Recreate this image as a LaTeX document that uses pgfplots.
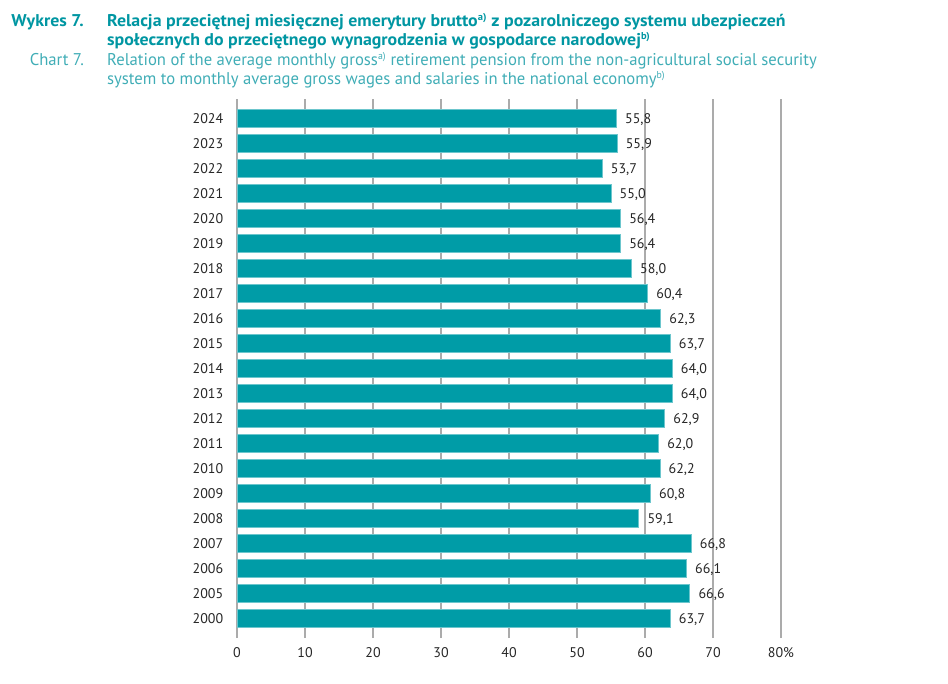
\documentclass[border=0pt]{standalone}
\usepackage{fontspec}
\setmainfont{PT Sans}
\newfontfamily\titlefontb[FakeStretch=1.05]{PT Sans}
\newfontfamily\titlefontr[FakeStretch=0.98]{PT Sans}
\usepackage{pgfplots}
\pgfplotsset{compat=1.18}
\definecolor{barteal}{HTML}{009CA7}
\definecolor{baredge}{HTML}{6CC6CD}
\definecolor{titleteal}{HTML}{0096A2}
\definecolor{subteal}{HTML}{40ADB6}
\definecolor{gridgray}{HTML}{ABABAB}
\pgfplotstableread{
idx year val
0 2000 63.7
1 2005 66.6
2 2006 66.1
3 2007 66.8
4 2008 59.1
5 2009 60.8
6 2010 62.2
7 2011 62.0
8 2012 62.9
9 2013 64.0
10 2014 64.0
11 2015 63.7
12 2016 62.3
13 2017 60.4
14 2018 58.0
15 2019 56.4
16 2020 56.4
17 2021 55.0
18 2022 53.7
19 2023 55.9
20 2024 55.8
}\datatable
\begin{document}
\begin{tikzpicture}
\useasboundingbox (0pt,0pt) rectangle (948pt,683pt);
\node[anchor=base east, inner sep=0pt, text=titleteal, font=\titlefontb\fontsize{17}{20}\selectfont\bfseries] at (84pt,656pt) {Wykres 7.};
\node[anchor=base west, inner sep=0pt, text=titleteal, font=\titlefontb\fontsize{17}{20}\selectfont\bfseries] at (107pt,656pt) {Relacja przeciętnej miesięcznej emerytury brutto\textsuperscript{\fontsize{10}{10}\selectfont a)} z pozarolniczego systemu ubezpieczeń};
\node[anchor=base west, inner sep=0pt, text=titleteal, font=\titlefontb\fontsize{17}{20}\selectfont\bfseries] at (107pt,637.5pt) {społecznych do przeciętnego wynagrodzenia w gospodarce narodowej\textsuperscript{\fontsize{10}{10}\selectfont b)}};
\node[anchor=base east, inner sep=0pt, text=subteal, font=\titlefontr\fontsize{17}{20}\selectfont] at (84pt,617pt) {Chart 7.};
\node[anchor=base west, inner sep=0pt, text=subteal, font=\titlefontr\fontsize{17}{20}\selectfont] at (107pt,617pt) {Relation of the average monthly gross\textsuperscript{\fontsize{10}{10}\selectfont a)} retirement pension from the non-agricultural social security};
\node[anchor=base west, inner sep=0pt, text=subteal, font=\titlefontr\fontsize{17}{20}\selectfont] at (107pt,598pt) {system to monthly average gross wages and salaries in the national economy\textsuperscript{\fontsize{10}{10}\selectfont b)}};
\begin{axis}[
  at={(237pt,45pt)}, anchor=south west,
  scale only axis, width=544pt, height=539pt,
  xbar, bar width=18pt,
  xmin=0, xmax=80, ymin=-0.79, ymax=20.79,
  axis line style={draw=none},
  major tick style={draw=none},
  xtick={0,10,...,80},
  xticklabels={0,10,20,30,40,50,60,70,80\%},
  ytick={0,...,20},
  yticklabels={2000,2005,2006,2007,2008,2009,2010,2011,2012,2013,2014,2015,2016,2017,2018,2019,2020,2021,2022,2023,2024},
  xmajorgrids, grid style={gridgray, line width=1.3pt},
  tick label style={font=\fontsize{14}{16}\selectfont, text=black!85},
  xticklabel style={yshift=-6pt},
  yticklabel style={xshift=-6pt},
  /pgf/number format/assume math mode=true,
  nodes near coords,
  point meta=x,
  nodes near coords style={font=\fontsize{14}{16}\selectfont, text=black!85, anchor=west, xshift=5pt, yshift=-1pt,
    /pgf/number format/.cd, fixed, fixed zerofill, precision=1, use comma},
]
\addplot[fill=barteal, draw=baredge, line width=0.8pt] table[x=val, y=idx] {\datatable};
\end{axis}
\end{tikzpicture}
\end{document}
